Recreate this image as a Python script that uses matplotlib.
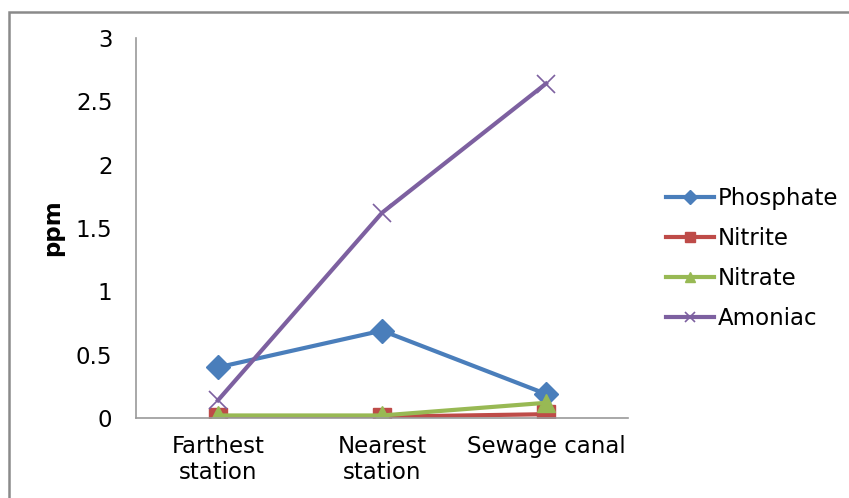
import matplotlib.pyplot as plt
from matplotlib.patches import Rectangle

stations = ['Farthest\nstation', 'Nearest\nstation', 'Sewage canal']
phosphate = [0.40, 0.69, 0.19]
nitrite = [0.01, 0.01, 0.03]
nitrate = [0.02, 0.02, 0.12]
amoniac = [0.14, 1.62, 2.64]
yticks = [0, 0.5, 1, 1.5, 2, 2.5, 3]

fig = plt.figure(figsize=(8.49, 4.98), dpi=100)
ax = fig.add_axes([136/849, 80/498, 492/849, 380/498])

# outer chart frame, open to the right and bottom edges
fig.patches.append(Rectangle((9/849, -0.1), 1.2, (498-12)/498 + 0.1,
                             transform=fig.transFigure, fill=False,
                             edgecolor='#8a8a8a', lw=1.8))

x = range(len(stations))
ax.plot(x, phosphate, color='#4a7ebb', lw=3, marker='D', ms=12, label='Phosphate')
ax.plot(x, nitrite, color='#be4b48', lw=3, marker='s', ms=13, label='Nitrite')
ax.plot(x, nitrate, color='#98b954', lw=3, marker='^', ms=13, label='Nitrate')
ax.plot(x, amoniac, color='#7d60a0', lw=3, marker='x', ms=13, mew=1.2, label='Amoniac')

ax.set_xlim(-0.5, 2.5)
ax.set_ylim(0, 3)
ax.set_yticks(yticks)
ax.set_yticklabels(['0', '0.5', '1', '1.5', '2', '2.5', '3'])
ax.set_xticks(list(x))
ax.set_xticklabels(stations, linespacing=1.2)
ax.tick_params(axis='y', length=0, pad=17, labelsize=16.5)
ax.tick_params(axis='x', length=0, pad=12, labelsize=16.5)
for side in ['top', 'right']:
    ax.spines[side].set_visible(False)
for side in ['left', 'bottom']:
    ax.spines[side].set_color('#9a9a9a')
    ax.spines[side].set_linewidth(1.2)
ax.set_ylabel('ppm', fontsize=16.5, fontweight='bold')
ax.yaxis.set_label_coords(-72/492, 0.5)

ax.legend(loc='center left', bbox_to_anchor=(1.035, 0.42), frameon=False,
          fontsize=16.5, handlelength=2.1, handletextpad=0.15, labelspacing=0.75,
          markerscale=0.6)

fig.savefig('out.png', dpi=100)
